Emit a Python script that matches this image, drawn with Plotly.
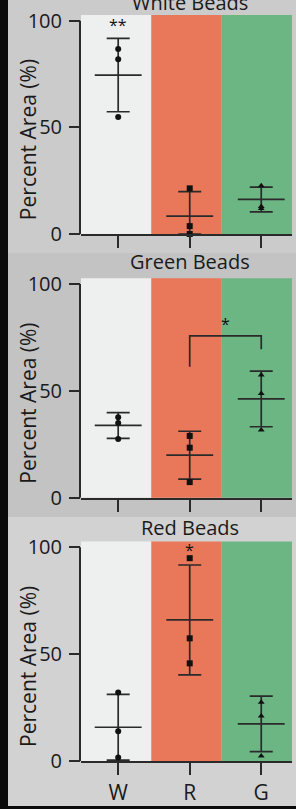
import plotly.graph_objects as go

CATEGORIES = ["W", "R", "G"]
PANEL_TITLES = ["White Beads", "Green Beads", "Red Beads"]
Y_TICKS = [0, 50, 100]

# replicate values (% area)
WHITE_W = [86.7, 81.9, 54.8]
WHITE_R = [21.4, 3.7, 0.0]
WHITE_G = [22.6, 12.9, 12.0]
GREEN_W = [37.6, 34.9, 27.5]
GREEN_R = [28.9, 23.4, 7.3]
GREEN_G = [57.4, 48.8, 31.7]
RED_W = [32.0, 13.9, 1.6]
RED_R = [94.9, 57.4, 45.7]
RED_G = [27.5, 21.1, 2.3]

# mean and SD bars
WHITE_MEAN = [74.5, 8.4, 16.2]
WHITE_SD = [17.2, 11.5, 5.8]
GREEN_MEAN = [33.8, 19.9, 46.2]
GREEN_SD = [6.0, 11.2, 13.0]
RED_MEAN = [15.8, 66.0, 17.4]
RED_SD = [15.4, 25.7, 13.0]

# significance marks
SIG_TEXT = ["**", "*", "*"]
SIG_X = [0, 1.5, 1]
SIG_Y = [98.4, 81.8, 99.2]
BRACKET_X = [1, 1, 2, 2]
BRACKET_Y = [61.3, 75.7, 75.7, 69.4]

W, H = 296, 809
FONT = "Open Sans"
INK = "#2a2a2a"
BAND_COLORS = ["#eef0ef", "#e9775a", "#6cb684"]
PANEL_BG = ["#cbcbcb", "#c3c3c3", "#d2d2d2"]
SYMBOLS = ["circle", "square", "triangle-up"]

panels = [
    dict(points=[WHITE_W, WHITE_R, WHITE_G], mean=WHITE_MEAN, sd=WHITE_SD),
    dict(points=[GREEN_W, GREEN_R, GREEN_G], mean=GREEN_MEAN, sd=GREEN_SD),
    dict(points=[RED_W, RED_R, RED_G], mean=RED_MEAN, sd=RED_SD),
]

# layout geometry (pixels from top)
X_DOM = [81 / W, 292 / W]
Y_DOMS = [
    [1 - 234 / H, 1 - 14.9 / H],
    [1 - 497.7 / H, 1 - 278.2 / H],
    [1 - 761 / H, 1 - 541.5 / H],
]
PANEL_PX = [(0, 253), (253, 517), (517, 806)]
TITLE_PX = [2.5, 262, 527]
Y_TOP = 102.7

fig = go.Figure()
shapes = []
annotations = []
layout = {}

for k, p in enumerate(panels):
    n = k + 1
    xa = "x" if n == 1 else f"x{n}"
    ya = "y" if n == 1 else f"y{n}"
    cats = list(range(len(CATEGORIES)))

    # panel background
    shapes.append(dict(type="rect", xref="paper", yref="paper",
                       x0=8 / W, x1=1, y0=1 - PANEL_PX[k][1] / H, y1=1 - PANEL_PX[k][0] / H,
                       fillcolor=PANEL_BG[k], line=dict(width=0), layer="below"))
    # coloured bands
    for j in cats:
        shapes.append(dict(type="rect", xref=f"{xa} domain", yref=f"{ya} domain",
                           x0=j / 3, x1=(j + 1) / 3, y0=0, y1=1,
                           fillcolor=BAND_COLORS[j], line=dict(width=0), layer="below"))
    # y axis line 0..100
    shapes.append(dict(type="line", xref="paper", yref=ya,
                       x0=X_DOM[0] - 1 / W, x1=X_DOM[0] - 1 / W, y0=0, y1=100,
                       line=dict(color=INK, width=2), layer="above"))

    # mean + SD
    lower = [min(s, m) for s, m in zip(p["sd"], p["mean"])]
    fig.add_trace(go.Scatter(
        x=cats, y=p["mean"], mode="markers", xaxis=xa, yaxis=ya, showlegend=False,
        marker=dict(symbol="line-ew", size=33.5, color=INK, line=dict(width=1.7, color=INK)),
        error_y=dict(type="data", array=p["sd"], arrayminus=lower,
                     thickness=1.7, width=11.5, color=INK),
        cliponaxis=False,
    ))
    # replicate points
    xs, ys, syms = [], [], []
    for j, vals in enumerate(p["points"]):
        for v in vals:
            xs.append(j)
            ys.append(v)
            syms.append(SYMBOLS[j])
    fig.add_trace(go.Scatter(
        x=xs, y=ys, mode="markers", xaxis=xa, yaxis=ya, showlegend=False,
        marker=dict(symbol=syms, size=6, color="#111111"), cliponaxis=False,
    ))
    if k == 1:
        fig.add_trace(go.Scatter(
            x=BRACKET_X, y=BRACKET_Y, mode="lines", xaxis=xa, yaxis=ya, showlegend=False,
            line=dict(color=INK, width=1.7),
        ))

    annotations.append(dict(text=SIG_TEXT[k], xref=xa, yref=ya, x=SIG_X[k], y=SIG_Y[k],
                            showarrow=False, yanchor="middle", yshift=-1,
                            font=dict(family=FONT, size=16, color="#111")))
    annotations.append(dict(text=PANEL_TITLES[k], xref=xa, yref="paper", x=1,
                            y=1 - TITLE_PX[k] / H, yanchor="middle", showarrow=False,
                            font=dict(family=FONT, size=20, color="#1a1a1a")))
    annotations.append(dict(text="Percent Area (%)", xref="paper", yref=ya, x=28 / W, y=44,
                            textangle=-90, showarrow=False, xanchor="center", yanchor="middle",
                            font=dict(family=FONT, size=21, color="#1a1a1a")))

    layout["xaxis" if n == 1 else f"xaxis{n}"] = dict(
        domain=X_DOM, anchor=ya, range=[-0.52, 2.43], automargin=False,
        tickvals=cats, ticktext=CATEGORIES, showticklabels=(k == 2),
        ticks="outside", ticklen=12, tickwidth=2, tickcolor=INK,
        showline=True, linewidth=2, linecolor=INK, showgrid=False, zeroline=False,
        tickfont=dict(family=FONT, size=21, color="#1a1a1a"), fixedrange=True,
    )
    layout["yaxis" if n == 1 else f"yaxis{n}"] = dict(
        domain=Y_DOMS[k], anchor=xa, range=[0, Y_TOP], automargin=False,
        tickvals=Y_TICKS, ticks="outside", ticklen=11, tickwidth=2, tickcolor=INK,
        ticklabelstandoff=3,
        showline=False, showgrid=False, zeroline=False,
        tickfont=dict(family=FONT, size=20, color="#1a1a1a"), fixedrange=True,
    )

fig.update_layout(
    width=W, height=H, margin=dict(l=0, r=0, t=0, b=0, pad=0, autoexpand=False),
    paper_bgcolor="#0b0b0b", plot_bgcolor="rgba(0,0,0,0)",
    shapes=shapes, annotations=annotations, showlegend=False,
    font=dict(family=FONT), **layout,
)
fig.write_html(
    "out.html",
    config=dict(displayModeBar=False, staticPlot=True),
    post_script="document.body.style.margin='0';document.body.style.overflow='hidden';",
)
